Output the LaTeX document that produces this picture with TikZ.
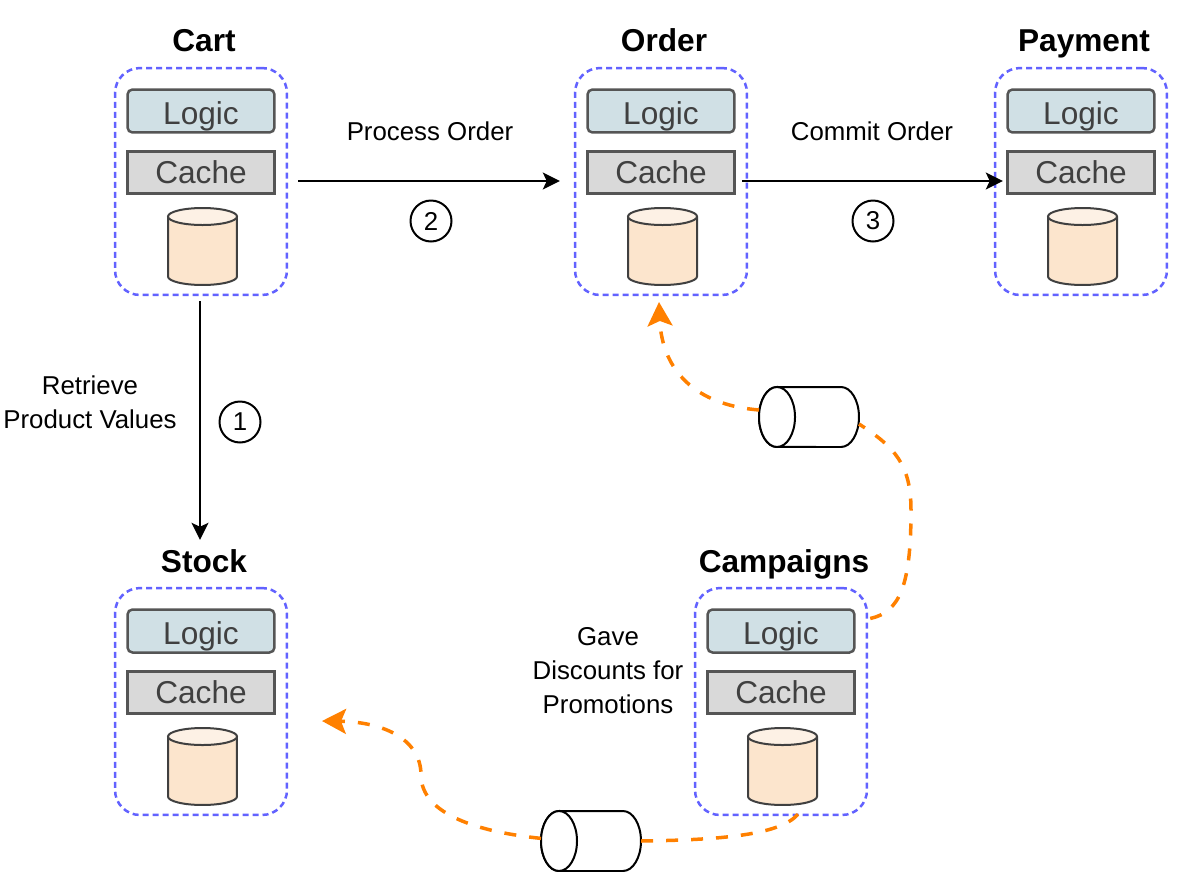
\documentclass[tikz,border=0pt]{standalone}
\usepackage{fontspec}
\setmainfont{Liberation Sans}
\usetikzlibrary{positioning,calc,arrows.meta}
\definecolor{groupblue}{HTML}{6262FF}
\definecolor{logicfill}{HTML}{D0E0E5}
\definecolor{cachefill}{HTML}{D9D9D9}
\definecolor{dbfill}{HTML}{FCE5CD}
\definecolor{dbtop}{HTML}{FDF1E5}
\definecolor{partline}{HTML}{555555}
\definecolor{eventorange}{HTML}{FF8000}
\tikzset{
  group/.style={draw=groupblue,line width=0.05cm,dash pattern=on 0.12cm off 0.08cm,rounded corners=0.5cm,
                minimum width=3.44cm,minimum height=4.54cm},
  logicbox/.style={draw=partline,fill=logicfill,line width=0.05cm,rounded corners=0.1cm,text=black!75,
                minimum width=2.94cm,minimum height=0.86cm,inner sep=0pt,text height=0.54cm,text depth=0pt,
                font=\fontsize{18}{20}\selectfont},
  cachebox/.style={draw=partline,fill=cachefill,line width=0.05cm,text=black!75,
                minimum width=2.94cm,minimum height=0.84cm,inner sep=0pt,text height=0.42cm,text depth=0pt,
                font=\fontsize{18}{20}\selectfont},
  dbframe/.style={minimum width=1.38cm,minimum height=1.54cm,inner sep=0pt,outer sep=0pt},
  dbline/.style={draw=black!75,line width=0.04cm},
  queue/.style={minimum width=2cm,minimum height=1.2cm,inner sep=0pt,outer sep=0pt},
  queueline/.style={draw=black,line width=0.04cm,fill=white},
  title/.style={text height=0.44cm,text depth=0pt,font=\bfseries\fontsize{18}{20}\selectfont},
  label/.style={align=center,font=\fontsize{14.7}{19.3}\selectfont},
  step mark/.style={circle,draw=black,line width=0.04cm,minimum size=0.82cm,inner sep=0pt,font=\fontsize{14.7}{18}\selectfont},
  flow/.style={->,draw=black,line width=0.04cm},
  event/.style={draw=eventorange,line width=0.07cm,dash pattern=on 0.24cm off 0.26cm},
  eventtip/.style={-{Stealth[length=0.48cm,width=0.5cm,inset=0.1cm]}},
}
\newcommand{\dbcan}[1]{
  \fill[dbfill] ($(#1.north west)+(0,8.5)$) -- ($(#1.south west)+(0,-8.5)$)
    arc[start angle=180,end angle=360,x radius=0.69cm,y radius=0.17cm] -- ($(#1.north east)+(0,8.5)$) -- cycle;
  \draw[dbline] ($(#1.north west)+(0,8.5)$) -- ($(#1.south west)+(0,-8.5)$)
    arc[start angle=180,end angle=360,x radius=0.69cm,y radius=0.17cm] -- ($(#1.north east)+(0,8.5)$);
  \draw[dbline,fill=dbtop] ($(#1.north)+(0,8.5)$) ellipse[x radius=0.69cm,y radius=0.17cm];
}
\newcommand{\queuecan}[1]{
  \draw[queueline] ($(#1.north west)+(18,0)$) -- ($(#1.north east)+(-18,0)$)
    arc[start angle=90,end angle=-90,x radius=0.36cm,y radius=0.6cm] -- ($(#1.south west)+(18,0)$)
    arc[start angle=270,end angle=90,x radius=0.36cm,y radius=0.6cm] -- cycle;
  \draw[queueline] ($(#1.west)+(18,0)$) ellipse[x radius=0.36cm,y radius=0.6cm];
}
\begin{document}
\begin{tikzpicture}[x=0.02cm,y=-0.02cm,>={Stealth[length=0.34cm,width=0.34cm,inset=0.08cm]}]
\useasboundingbox (0,0) rectangle (1180,872);

\foreach \n/\t/\x/\y in {cart/Cart/201/181.5,order/Order/661/181.5,payment/Payment/1081/181.5,
                         stock/Stock/201/701.5,campaigns/Campaigns/781/701.5}
{
  \node[group]    (\n)       at (\x,\y)              {};
  \node[logicbox] (\n logic) at ($(\n)+(0,-70.5)$)   {Logic};
  \node[cachebox] (\n cache) at ($(\n)+(0,-9)$)      {Cache};
  \node[dbframe]  (\n db)    at ($(\n)+(1.5,65)$)    {};
  \node[title]    (\n title) at ($(\n)+(3,-140.5)$)  {\t};
  \dbcan{\n db}
}

\node[queue] (queuea) at (809,417) {};
\node[queue] (queueb) at (591,841) {};
\queuecan{queuea}
\queuecan{queueb}

\node[label]     (processlabel)  at (430,131) {Process Order};
\node[label]     (commitlabel)   at (872,131) {Commit Order};
\node[label]     (retrievelabel) at (90,402)  {Retrieve\\Product Values};
\node[label]     (gavelabel)     at (608,671) {Gave\\Discounts for\\Promotions};
\node[step mark] (stepa)         at (240,422) {1};
\node[step mark] (stepb)         at (431,221) {2};
\node[step mark] (stepc)         at (873,221) {3};

\draw[flow,shorten <=0.1cm,shorten >=0.94cm] ($(cart.south)+(-1,0)$) -- ($(stock.north)+(-1,0)$);
\draw[flow,shorten <=0.2cm,shorten >=0.28cm] ($(cart.east)+(0,-0.5)$) -- ($(order.west)+(0,-0.5)$);
\draw[flow,shorten <=-0.12cm,shorten >=-0.18cm] ($(order.east)+(0,-0.5)$) -- ($(payment.west)+(0,-0.5)$);

% orange event lines
\draw[event] ($(campaigns.east)+(2,-83)$) .. controls (900,612) and (911,585) .. (911,510)
             .. controls (911,465) and (895,447) .. (queuea.-8);
\draw[event,eventtip] (queuea.172) .. controls (695,405) and (662,370) .. (659,302);
\draw[event] ($(campaigns.south)+(17,-2)$) .. controls (780,835) and (720,840) .. (queueb.east);
\draw[event,eventtip] (queueb.177) .. controls (480,832) and (421,815) .. (421,775)
             .. controls (421,740) and (385,722) .. (322,721);
\end{tikzpicture}
\end{document}
